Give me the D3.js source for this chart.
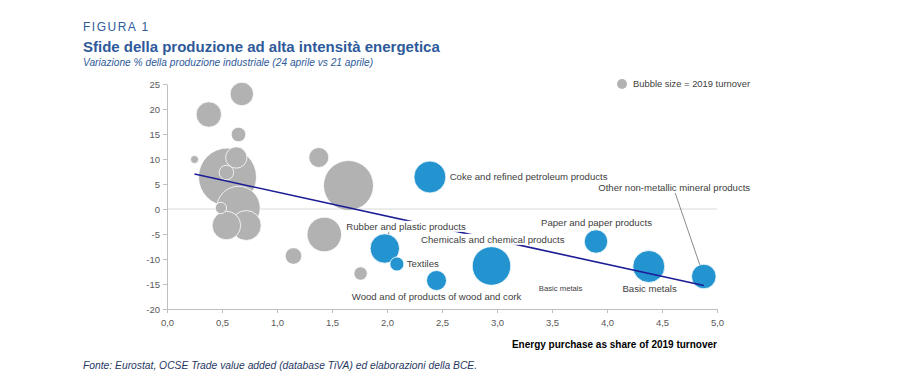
<!DOCTYPE html>
<html>
<head>
<meta charset="utf-8">
<script src="https://cdn.jsdelivr.net/npm/d3@7"></script>
<style>
  body { margin: 0; background: #fff; }
  svg text { font-family: "Liberation Sans", Arial, sans-serif; }
</style>
</head>
<body>
<svg id="chart" width="906" height="378"></svg>
<script>
// sectors: energy share (x), production change % (y), 2019 turnover (bubble size)
var sectors = ['Other 1', 'Other 2', 'Other 3', 'Other 4', 'Other 5', 'Other 6', 'Other 7', 'Other 8',
    'Other 9', 'Other 10', 'Other 11', 'Other 12', 'Other 13', 'Other 14', 'Other 15', 'Other 16',
    'Coke and refined petroleum products', 'Rubber and plastic products', 'Textiles',
    'Wood and of products of wood and cork', 'Chemicals and chemical products',
    'Paper and paper products', 'Basic metals', 'Other non-metallic mineral products'];
var energyShare = [0.25, 0.38, 0.68, 0.65, 0.63, 0.55, 0.54, 0.65, 0.49, 0.54, 0.72, 1.38, 1.65, 1.43, 1.15, 1.76,
    2.39, 1.98, 2.09, 2.45, 2.95, 3.90, 4.38, 4.88];
var prodChange = [9.9, 18.9, 23.0, 14.9, 10.3, 6.4, 7.3, 0.2, 0.2, -3.3, -3.3, 10.3, 4.7, -5.1, -9.4, -12.9,
    6.4, -7.9, -11.0, -14.3, -11.4, -6.5, -11.5, -13.5];
var turnover = [16, 161, 137, 53, 114, 841, 53, 471, 32, 204, 225, 100, 625, 299, 69, 45,
    256, 216, 49, 100, 372, 137, 256, 151];
var highlighted = [false, false, false, false, false, false, false, false, false, false, false, false, false, false, false, false,
    true, true, true, true, true, true, true, true];
var trendStart = [0.25, 7.0];
var trendEnd = [4.88, -15.3];
var xTicks = [0, 0.5, 1, 1.5, 2, 2.5, 3, 3.5, 4, 4.5, 5];
var yTicks = [25, 20, 15, 10, 5, 0, -5, -10, -15, -20];

var svg = d3.select('#chart');
var margin = {left: 167, right: 189, top: 84, bottom: 69};
var width = 906 - margin.left - margin.right;
var height = 378 - margin.top - margin.bottom;

var locale = d3.formatLocale({decimal: ',', thousands: '.', grouping: [3], currency: ['', '€'], minus: '-'});

var x = d3.scaleLinear().domain([0, 5]).range([margin.left, margin.left + width]);
var y = d3.scaleLinear().domain([-20, 25]).range([margin.top + height, margin.top]);
var r = d3.scaleSqrt().domain([0, d3.max(turnover)]).range([0, 29]);

// titles
svg.append('text').attr('x', 83).attr('y', 31).text('FIGURA 1')
    .style('font-size', '12px').style('letter-spacing', '1.5px').attr('fill', '#2e5a9a');
svg.append('text').attr('x', 83).attr('y', 52).text('Sfide della produzione ad alta intensità energetica')
    .style('font-size', '15px').style('font-weight', 'bold').attr('fill', '#2e5a9a');
svg.append('text').attr('x', 83).attr('y', 66).text('Variazione % della produzione industriale (24 aprile vs 21 aprile)')
    .style('font-size', '10.2px').style('font-style', 'italic').attr('fill', '#2e5a9a');

// zero line
svg.append('line')
    .attr('x1', x(0)).attr('x2', x(5)).attr('y1', y(0)).attr('y2', y(0))
    .attr('stroke', '#d9d9d9').attr('stroke-width', 1);

// axes
var xAxis = d3.axisBottom(x).tickValues(xTicks).tickSize(4).tickSizeOuter(0).tickFormat(locale.format('.1f'));
var yAxis = d3.axisLeft(y).tickValues(yTicks).tickSize(4).tickSizeOuter(0).tickFormat(locale.format('d'));

var gx = svg.append('g').attr('transform', 'translate(0,' + y(-20) + ')').call(xAxis);
var gy = svg.append('g').attr('transform', 'translate(' + x(0) + ',0)').call(yAxis);
[gx, gy].forEach(function (g) {
    g.select('.domain').attr('stroke', '#bfbfbf');
    g.selectAll('.tick line').attr('stroke', '#bfbfbf');
    g.selectAll('.tick text').attr('fill', '#595959').style('font-size', '9.5px')
        .style('font-family', '"Liberation Sans", Arial, sans-serif');
});
gx.selectAll('.tick text').attr('dy', '1.1em');

// bubbles, largest first
var points = sectors.map(function (s, i) {
    return {name: s, x: energyShare[i], y: prodChange[i], size: turnover[i], hi: highlighted[i]};
}).sort(function (a, b) { return b.size - a.size; });

svg.append('g').selectAll('circle').data(points).enter().append('circle')
    .attr('cx', function (d) { return x(d.x); })
    .attr('cy', function (d) { return y(d.y); })
    .attr('r', function (d) { return r(d.size); })
    .attr('fill', function (d) { return d.hi ? '#2394cf' : '#b2b2b2'; })
    .attr('stroke', '#fff').attr('stroke-width', 0.8);

// trend line
svg.append('line')
    .attr('x1', x(trendStart[0])).attr('y1', y(trendStart[1]))
    .attr('x2', x(trendEnd[0])).attr('y2', y(trendEnd[1]))
    .attr('stroke', '#1c1c96').attr('stroke-width', 1.6);

// leader lines, ending on the bubble edge
function leader(x1, y1, i) {
    var sx = x(x1), sy = y(y1);
    var cx = x(energyShare[i]), cy = y(prodChange[i]);
    var dx = cx - sx, dy = cy - sy, len = Math.sqrt(dx * dx + dy * dy);
    var k = (len - r(turnover[i])) / len;
    svg.append('line')
        .attr('x1', sx).attr('y1', sy)
        .attr('x2', sx + dx * k).attr('y2', sy + dy * k)
        .attr('stroke', '#595959').attr('stroke-width', 0.7);
}
leader(4.62, 3.2, 23);
leader(2.02, -4.4, 17);

// labels
var labels = [
    {t: 'Coke and refined petroleum products', x: 2.57, y: 6.4, fs: 9.6, bg: false},
    {t: 'Other non-metallic mineral products', x: 3.92, y: 4.2, fs: 9.6, bg: false},
    {t: 'Paper and paper products', x: 3.4, y: -2.8, fs: 9.6, bg: false},
    {t: 'Rubber and plastic products', x: 1.63, y: -3.5, fs: 9.6, bg: true},
    {t: 'Chemicals and chemical products', x: 2.31, y: -6.1, fs: 9.6, bg: true},
    {t: 'Textiles', x: 2.18, y: -11.0, fs: 9.6, bg: false},
    {t: 'Wood and of products of wood and cork', x: 1.68, y: -17.6, fs: 9.6, bg: false},
    {t: 'Basic metals', x: 3.38, y: -15.8, fs: 7.7, bg: false},
    {t: 'Basic metals', x: 4.14, y: -15.9, fs: 9.6, bg: false}
];
labels.forEach(function (l) {
    var g = svg.append('g');
    var t = g.append('text').attr('x', x(l.x)).attr('y', y(l.y)).attr('dy', '0.35em')
        .text(l.t).attr('fill', '#404040').style('font-size', l.fs + 'px');
    if (l.bg) {
        var b = t.node().getBBox();
        g.insert('rect', 'text').attr('x', b.x - 1).attr('y', b.y)
            .attr('width', b.width + 2).attr('height', b.height).attr('fill', '#fff');
    }
});

// legend
svg.append('circle').attr('cx', 622).attr('cy', 84).attr('r', 5).attr('fill', '#b2b2b2');
svg.append('text').attr('x', 633).attr('y', 84).attr('dy', '0.35em').text('Bubble size = 2019 turnover')
    .attr('fill', '#404040').style('font-size', '9.4px');

// axis title and source
svg.append('text').attr('x', x(5)).attr('y', 348).attr('text-anchor', 'end')
    .text('Energy purchase as share of 2019 turnover')
    .style('font-size', '10px').style('font-weight', 'bold').attr('fill', '#000');
svg.append('text').attr('x', 83).attr('y', 369)
    .text('Fonte: Eurostat, OCSE Trade value added (database TiVA) ed elaborazioni della BCE.')
    .style('font-size', '10.3px').style('font-style', 'italic').attr('fill', '#1f3864');
</script>
</body>
</html>
